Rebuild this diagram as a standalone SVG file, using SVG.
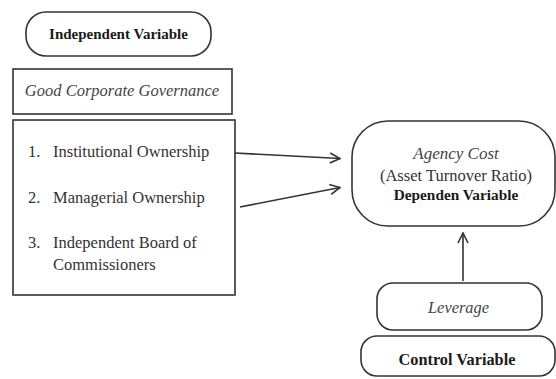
<svg xmlns="http://www.w3.org/2000/svg" width="556" height="379" viewBox="0 0 556 379">
<style>
.box{fill:#fff;stroke:#333;stroke-width:1.6}
.t{fill:#222}
.b{font-weight:bold;fill:#1a1a1a}
.i{font-style:italic;fill:#444}
.r{fill:#333}
.c{stroke:#333;stroke-width:1.6;fill:none}
</style>
<defs>
<marker id="ah" viewBox="0 0 12 12" refX="11" refY="6" markerWidth="12" markerHeight="12" markerUnits="userSpaceOnUse" orient="auto">
<path d="M1,1 L11,6 L1,11" fill="none" stroke="#333" stroke-width="1.6"/>
</marker>
</defs>
<rect width="556" height="379" fill="#fff"/>
<g font-family="Liberation Serif, Times New Roman, serif">
<g id="independent-variable">
<rect class="box" x="26" y="12" width="185" height="44" rx="20"/>
<text class="b" x="118.5" y="39" font-size="15" text-anchor="middle">Independent Variable</text>
</g>
<g id="gcg">
<rect class="box" x="13" y="69" width="219" height="45"/>
<text class="i" x="122" y="96" font-size="16.5" text-anchor="middle">Good Corporate Governance</text>
</g>
<g id="indicators">
<rect class="box" x="13" y="120" width="222" height="175"/>
<text class="r" x="28" y="157" font-size="16.5">1.</text>
<text class="r" x="53" y="157" font-size="16.5">Institutional Ownership</text>
<text class="r" x="28" y="203" font-size="16.5">2.</text>
<text class="r" x="53" y="203" font-size="16.5">Managerial Ownership</text>
<text class="r" x="28" y="248" font-size="16.5">3.</text>
<text class="r" x="53" y="248" font-size="16.5">Independent Board of</text>
<text class="r" x="53" y="270" font-size="16.5">Commissioners</text>
</g>
<g id="agency-cost">
<rect class="box" x="352" y="121" width="203" height="105" rx="36"/>
<text class="i" x="456" y="159" font-size="17" text-anchor="middle">Agency Cost</text>
<text class="r" x="456" y="181" font-size="16.5" text-anchor="middle">(Asset Turnover Ratio)</text>
<text class="b" x="456" y="200" font-size="15.3" text-anchor="middle">Dependen Variable</text>
</g>
<g id="leverage">
<rect class="box" x="377" y="283" width="165" height="47" rx="16"/>
<text class="i" x="458.5" y="313" font-size="16.4" text-anchor="middle">Leverage</text>
</g>
<g id="control-variable">
<rect class="box" x="361" y="336" width="194" height="40" rx="16"/>
<text class="b" x="457" y="365" font-size="16.3" text-anchor="middle">Control Variable</text>
</g>
</g>
<g id="connectors">
<line class="c" x1="235" y1="153" x2="340" y2="158.5" marker-end="url(#ah)"/>
<line class="c" x1="240" y1="207" x2="340" y2="187.5" marker-end="url(#ah)"/>
<line class="c" x1="463" y1="281" x2="463" y2="233" marker-end="url(#ah)"/>
</g>
</svg>
